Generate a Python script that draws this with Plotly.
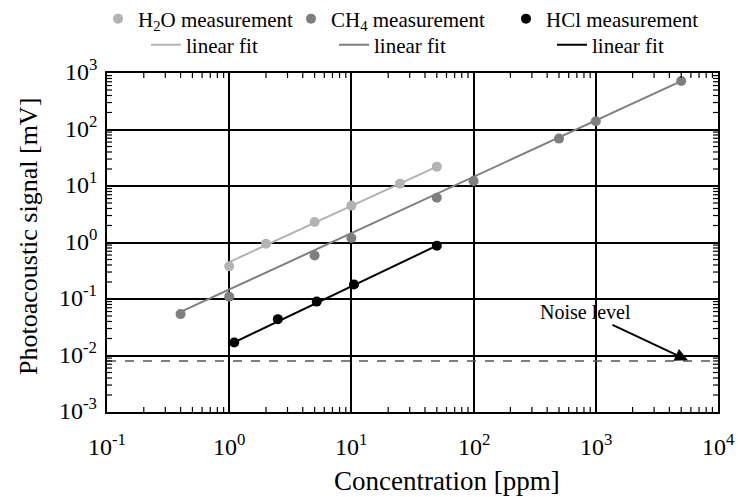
import plotly.graph_objects as go

# ---- data ----
h2o_x = [1, 2, 5, 10, 25, 50]
h2o_y = [0.38, 0.95, 2.3, 4.5, 11, 22]
ch4_x = [0.4, 1, 5, 10, 50, 100, 500, 1000, 5000]
ch4_y = [0.054, 0.11, 0.59, 1.2, 6.2, 12.3, 69, 140, 720]
hcl_x = [1.1, 2.5, 5.2, 10.5, 50]
hcl_y = [0.017, 0.044, 0.09, 0.18, 0.88]

h2o_fit_x = [1, 50]
h2o_fit_y = [0.45, 22]
ch4_fit_x = [0.4, 5000]
ch4_fit_y = [0.059, 720]
hcl_fit_x = [1, 50]
hcl_fit_y = [0.0155, 0.88]

noise_x = [0.1, 10000]
noise_y = [0.008, 0.008]

x_exps = [-1, 0, 1, 2, 3, 4]
y_exps = [-3, -2, -1, 0, 1, 2, 3]
x_ticktext = ["10<sup>%d</sup>" % e for e in x_exps]
y_ticktext = ["10<sup>%d</sup>" % e for e in y_exps]

FONT = "Liberation Serif"
C_H2O = "#b3b3b3"
C_CH4 = "#7f7f7f"
C_HCL = "#000000"

W, H = 738, 497
L, R, T, B = 107, 20, 73, 85
PW, PH = W - L - R, H - T - B


def px2paper(px, py):
    return (px - L) / PW, (H - B - py) / PH


fig = go.Figure()

# noise level
fig.add_trace(go.Scatter(x=noise_x, y=noise_y, mode="lines",
                         line=dict(color="#555555", width=1.5, dash="dash"),
                         showlegend=False, hoverinfo="skip"))

specs = [
    ("H<sub>2</sub>O measurement", h2o_x, h2o_y, "markers", C_H2O, "legend"),
    ("CH<sub>4</sub> measurement", ch4_x, ch4_y, "markers", C_CH4, "legend2"),
    ("HCl measurement", hcl_x, hcl_y, "markers", C_HCL, "legend3"),
    ("linear fit", h2o_fit_x, h2o_fit_y, "lines", C_H2O, "legend4"),
    ("linear fit", ch4_fit_x, ch4_fit_y, "lines", C_CH4, "legend5"),
    ("linear fit", hcl_fit_x, hcl_fit_y, "lines", C_HCL, "legend6"),
]
# draw lines first, markers on top
for name, xs, ys, mode, col, leg in specs[3:] + specs[:3]:
    if mode == "lines":
        fig.add_trace(go.Scatter(x=xs, y=ys, mode="lines", name=name,
                                 line=dict(color=col, width=2), legend=leg))
    else:
        fig.add_trace(go.Scatter(x=xs, y=ys, mode="markers", name=name,
                                 marker=dict(color=col, size=10), legend=leg))

# legend placement (text start px, row center py)
leg_pos = {
    "legend": (140, 19), "legend2": (333, 19), "legend3": (548, 19),
    "legend4": (188, 45), "legend5": (376, 45), "legend6": (594, 45),
}
legends = {}
for key, (tx, ty) in leg_pos.items():
    xp, yp = px2paper(tx - 42, ty)
    legends[key] = dict(x=xp, y=yp, xanchor="left", yanchor="middle",
                        bgcolor="rgba(0,0,0,0)", borderwidth=0,
                        font=dict(family=FONT, size=21, color="black"),
                        itemwidth=30)

# minor tick positions (2..9 x 10^e, data values), drawn as pixel-length shapes
minor_x = [m * 10.0 ** e for e in x_exps[:-1] for m in range(2, 10)]
minor_y = [m * 10.0 ** e for e in y_exps[:-1] for m in range(2, 10)]
TL = 5
tick_line = dict(color="black", width=1.2)
shapes = []
for v in minor_x:
    shapes.append(dict(type="line", xref="x", yref="paper", ysizemode="pixel",
                       yanchor=0, x0=v, x1=v, y0=0, y1=TL, line=tick_line))
    shapes.append(dict(type="line", xref="x", yref="paper", ysizemode="pixel",
                       yanchor=1, x0=v, x1=v, y0=0, y1=-TL, line=tick_line))
for v in minor_y:
    shapes.append(dict(type="line", xref="paper", yref="y", xsizemode="pixel",
                       xanchor=0, x0=0, x1=TL, y0=v, y1=v, line=tick_line))
    shapes.append(dict(type="line", xref="paper", yref="y", xsizemode="pixel",
                       xanchor=1, x0=0, x1=-TL, y0=v, y1=v, line=tick_line))

axis_common = dict(
    showline=True, linecolor="black", linewidth=2, mirror="allticks",
    showgrid=True, gridcolor="black", gridwidth=2,
    ticks="inside", ticklen=6, tickwidth=1.5, tickcolor="black",
    showticklabels=False, zeroline=False, tickmode="linear", tick0=0, dtick=1,
)

annotations = [
    dict(x=3.754, y=-2.085, xref="x", yref="y",
         text="Noise level", showarrow=True, ax=-102, ay=-48,
         arrowhead=2, arrowsize=1.3, arrowwidth=2, arrowcolor="black",
         font=dict(family=FONT, size=20, color="black")),
]
xt_x, xt_y = px2paper(447, 481)
yt_x, yt_y = px2paper(28, 236)
annotations.append(dict(x=xt_x, y=xt_y, xref="paper", yref="paper", showarrow=False,
                        text="Concentration [ppm]", xanchor="center", yanchor="middle",
                        font=dict(family=FONT, size=27, color="black")))
annotations.append(dict(x=yt_x, y=yt_y, xref="paper", yref="paper", showarrow=False,
                        text="Photoacoustic signal [mV]", textangle=-90,
                        xanchor="center", yanchor="middle",
                        font=dict(family=FONT, size=26, color="black")))

# tick labels
_, xl_y = px2paper(0, 448)
for e, t in zip(x_exps, x_ticktext):
    annotations.append(dict(x=e, y=xl_y, xref="x", yref="paper", showarrow=False,
                            text=t, xanchor="center", yanchor="middle", yshift=3,
                            font=dict(family=FONT, size=24, color="black")))
for e, t in zip(y_exps, y_ticktext):
    annotations.append(dict(x=0, y=e, xref="paper", yref="y", showarrow=False,
                            text=t, xanchor="right", yanchor="middle",
                            xshift=-8, yshift=3,
                            font=dict(family=FONT, size=24, color="black")))

fig.update_layout(
    width=W, height=H,
    margin=dict(l=L, r=R, t=T, b=B, autoexpand=False),
    paper_bgcolor="white", plot_bgcolor="white",
    font=dict(family=FONT, color="black"),
    xaxis=dict(type="log", range=[-1, 4], **axis_common),
    yaxis=dict(type="log", range=[-3, 3], **axis_common),
    annotations=annotations,
    shapes=shapes,
    showlegend=True,
    **legends,
)

fig.write_html("out.html")
